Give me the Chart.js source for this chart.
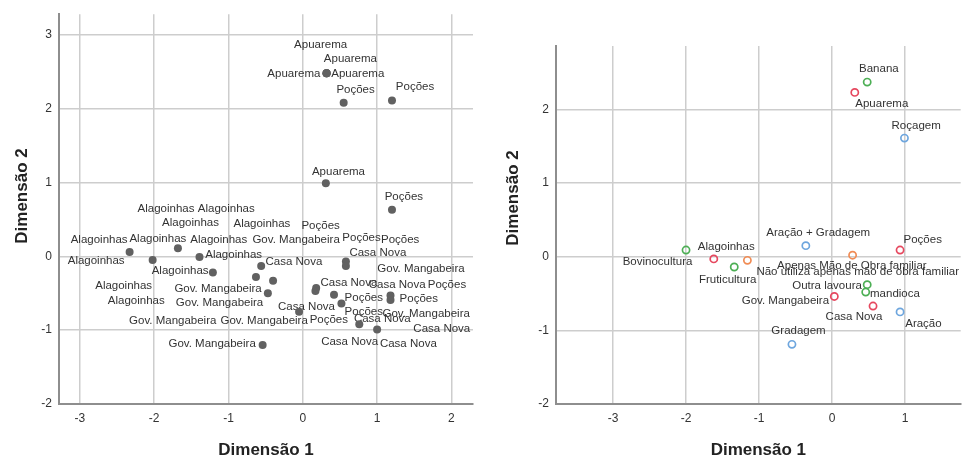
<!DOCTYPE html>
<html>
<head>
<meta charset="utf-8">
<script src="https://cdn.jsdelivr.net/npm/chart.js@4"></script>
<style>
html,body{margin:0;padding:0;background:#fff;overflow:hidden;width:962px;height:459px;}
#wrap{position:relative;width:962px;height:459px;overflow:hidden;background:#fff;}
#c1{position:absolute;left:0;top:0;}
#c2{position:absolute;left:480px;top:0;}
</style>
</head>
<body>
<div id="wrap">
<canvas id="c1" width="480" height="459"></canvas>
<canvas id="c2" width="486" height="459"></canvas>
</div>
<script>
// ---------- LEFT CHART DATA (objects: municipalities) ----------
const leftDotX = [0.32,0.32,0.32,0.32,0.55,1.20,0.31,1.20,-2.33,-2.02,-1.68,-1.39,-1.21,-0.56,-0.63,-0.40,-0.47,-0.54,-0.05,0.18,0.17,0.42,0.52,0.58,0.58,0.76,1.00,1.18,1.18];
const leftDotY = [2.48,2.48,2.48,2.48,2.08,2.11,0.99,0.63,0.06,-0.05,0.11,-0.01,-0.22,-0.13,-0.28,-0.33,-0.50,-1.20,-0.75,-0.43,-0.47,-0.52,-0.64,-0.07,-0.13,-0.92,-0.99,-0.53,-0.59];

const leftLabelText = [
 'Apuarema','Apuarema','Apuarema','Apuarema','Apuarema',
 'Poções','Poções','Poções','Poções','Poções','Poções','Poções','Poções','Poções','Poções','Poções',
 'Alagoinhas','Alagoinhas','Alagoinhas','Alagoinhas','Alagoinhas','Alagoinhas','Alagoinhas','Alagoinhas','Alagoinhas','Alagoinhas','Alagoinhas','Alagoinhas',
 'Gov. Mangabeira','Gov. Mangabeira','Gov. Mangabeira','Gov. Mangabeira','Gov. Mangabeira','Gov. Mangabeira','Gov. Mangabeira','Gov. Mangabeira',
 'Casa Nova','Casa Nova','Casa Nova','Casa Nova','Casa Nova','Casa Nova','Casa Nova','Casa Nova','Casa Nova'
];
const leftLabelX = [
 0.24,0.64,-0.12,0.74,0.48,
 0.71,1.51,1.36,0.24,0.79,1.31,1.94,0.82,1.56,0.82,0.35,
 -1.84,-1.03,-1.51,-0.55,-2.74,-1.95,-1.13,-2.78,-0.93,-1.65,-2.41,-2.24,
 -0.09,1.59,-1.14,-1.12,1.66,-1.75,-0.52,-1.22,
 1.01,-0.12,0.62,1.27,0.05,1.07,1.87,0.63,1.42
];
const leftLabelY = [
 2.87,2.67,2.47,2.47,1.15,
 2.25,2.29,0.80,0.42,0.25,0.23,-0.39,-0.56,-0.58,-0.75,-0.86,
 0.65,0.65,0.45,0.44,0.22,0.24,0.23,-0.06,0.02,-0.20,-0.40,-0.60,
 0.23,-0.17,-0.44,-0.63,-0.78,-0.87,-0.88,-1.19,
 0.05,-0.08,-0.36,-0.38,-0.68,-0.85,-0.98,-1.16,-1.18
];
const leftXTicks = [-3,-2,-1,0,1,2];
const leftYTicks = [-2,-1,0,1,2,3];

// ---------- RIGHT CHART DATA (categories) ----------
const rightCategories = ['Banana','Apuarema','Roçagem','Bovinocultura','Alagoinhas','Não utiliza apenas mão de obra familiar','Fruticultura','Aração + Gradagem','Apenas Mão de Obra familiar','Poções','Outra lavoura','mandioca','Gov. Mangabeira','Casa Nova','Aração','Gradagem'];
const rightGroup = ['cultivo','municipio','preparo','cultivo','municipio','mao','cultivo','preparo','mao','municipio','cultivo','cultivo','municipio','municipio','preparo','preparo'];
const rightX = [0.48,0.31,0.99,-2.00,-1.62,-1.16,-1.34,-0.36,0.28,0.93,0.48,0.46,0.03,0.56,0.93,-0.55];
const rightY = [2.37,2.23,1.61,0.09,-0.03,-0.05,-0.14,0.15,0.02,0.09,-0.38,-0.48,-0.54,-0.67,-0.75,-1.19];
const rightLabelX = [0.64,0.68,1.15,-2.39,-1.45,0.35,-1.43,-0.19,0.27,1.24,-0.07,0.86,-0.64,0.30,1.25,-0.46];
const rightLabelY = [2.55,2.07,1.77,-0.07,0.14,-0.20,-0.32,0.32,-0.13,0.23,-0.39,-0.50,-0.60,-0.82,-0.91,-1.01];
const rightGroups = ['municipio','cultivo','preparo','mao'];
const rightXTicks = [-3,-2,-1,0,1];
const rightYTicks = [-2,-1,0,1,2];

// ---------- STYLE ----------
const FONT = '"Liberation Sans", Arial, sans-serif';
const groupColor = {municipio:'#e6485f', cultivo:'#4daf55', preparo:'#6ea6de', mao:'#f08c55'};

const labelPlugin = {
  id:'pointLabels',
  beforeDatasetsDraw(chart, args, opts){
    const ctx = chart.ctx, xs = chart.scales.x, ys = chart.scales.y;
    ctx.save();
    ctx.font = '11.5px ' + FONT;
    ctx.fillStyle = '#333';
    ctx.textAlign = 'center';
    ctx.textBaseline = 'middle';
    opts.labels.forEach(l => {
      ctx.fillText(l.text, xs.getPixelForValue(l.x), ys.getPixelForValue(l.y));
    });
    ctx.restore();
  }
};
const titlePlugin = {
  id:'axisTitles',
  afterDraw(chart, args, opts){
    const ctx = chart.ctx, a = chart.chartArea;
    ctx.save();
    ctx.font = 'bold 17px ' + FONT;
    ctx.fillStyle = '#222';
    ctx.textAlign = 'center';
    ctx.textBaseline = 'middle';
    ctx.fillText(opts.xTitle, (a.left + a.right) / 2, 450);
    ctx.translate(opts.yTitleX, opts.yTitleY);
    ctx.rotate(-Math.PI / 2);
    ctx.fillText(opts.yTitle, 0, 0);
    ctx.restore();
  }
};

function axis(min, max, ticks, isX){
  return {
    type:'linear', min:min, max:max,
    afterBuildTicks: s => { s.ticks = ticks.map(v => ({value:v})); },
    afterFit: s => { if (isX) s.height = 55; else s.width = 20; },
    ticks:{padding:7, color:'#333', font:{size:12, family:FONT}},
    grid:{color:'#cdcdcd', lineWidth:1.5, drawTicks:false},
    border:{display:true, color:'#8e8e8e', width:2}
  };
}

// Left chart
new Chart(document.getElementById('c1'), {
  type:'scatter',
  data:{datasets:[{
    data: leftDotX.map((x,i) => ({x:x, y:leftDotY[i]})),
    pointRadius:4, pointHoverRadius:4,
    backgroundColor:'#616161', borderWidth:0
  }]},
  options:{
    responsive:false, animation:false, events:[],
    layout:{padding:{left:39, top:12, right:7, bottom:0}},
    plugins:{
      legend:{display:false}, tooltip:{enabled:false},
      pointLabels:{labels: leftLabelText.map((t,i) => ({text:t, x:leftLabelX[i], y:leftLabelY[i]}))},
      axisTitles:{xTitle:'Dimensão 1', yTitle:'Dimensão 2', yTitleX:22, yTitleY:196}
    },
    scales:{ x: axis(-3.28, 2.29, leftXTicks, true), y: axis(-2, 3.28, leftYTicks, false) }
  },
  plugins:[labelPlugin, titlePlugin]
});

// Right chart
new Chart(document.getElementById('c2'), {
  type:'scatter',
  data:{datasets: rightGroups.map(g => ({
    label:g,
    data: rightCategories.map((c,i) => ({x:rightX[i], y:rightY[i], g:rightGroup[i]})).filter(p => p.g === g),
    pointRadius:3.6, pointHoverRadius:3.6,
    backgroundColor:'rgba(255,255,255,0)', borderColor:groupColor[g], borderWidth:1.7
  }))},
  options:{
    responsive:false, animation:false, events:[],
    layout:{padding:{left:56, top:46, right:2, bottom:0}},
    plugins:{
      legend:{display:false}, tooltip:{enabled:false},
      pointLabels:{labels: rightCategories.map((t,i) => ({text:t, x:rightLabelX[i], y:rightLabelY[i]}))},
      axisTitles:{xTitle:'Dimensão 1', yTitle:'Dimensão 2', yTitleX:33, yTitleY:198}
    },
    scales:{ x: axis(-3.78, 1.76, rightXTicks, true), y: axis(-2, 2.86, rightYTicks, false) }
  },
  plugins:[labelPlugin, titlePlugin]
});
</script>
</body>
</html>
